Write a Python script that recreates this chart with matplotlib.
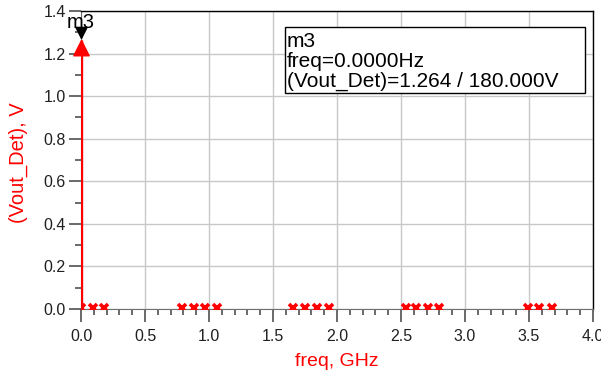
import matplotlib

matplotlib.use("Agg")
import matplotlib.pyplot as plt
from matplotlib.patches import Rectangle
from matplotlib.path import Path
from matplotlib.ticker import MultipleLocator

plt.rcParams["font.family"] = ["Liberation Sans", "DejaVu Sans"]

# spectrum lines (GHz, V)
freq_ghz = [0.0, 0.09, 0.18,
            0.79, 0.88, 0.97, 1.06,
            1.66, 1.75, 1.84, 1.94,
            2.54, 2.62, 2.71, 2.80,
            3.49, 3.58, 3.68]
vout_det = [1.264, 0.004, 0.004,
            0.004, 0.004, 0.004, 0.004,
            0.004, 0.004, 0.004, 0.004,
            0.004, 0.004, 0.004, 0.004,
            0.004, 0.004, 0.004]

marker_name = "m3"
marker_freq = 0.0
marker_val = 1.264

# triangles with the tip on the data point
tip_up = Path([(0, 0), (-0.5, -1), (0.5, -1), (0, 0)])
tip_down = Path([(0, 0), (-0.5, 1), (0.5, 1), (0, 0)])

fig = plt.figure(figsize=(6.01, 3.76), dpi=100)
ax = fig.add_axes([0.1348, 0.178, 0.8519, 0.7927])

ax.set_xlim(0, 4.0)
ax.set_ylim(0, 1.4)
ax.xaxis.set_major_locator(MultipleLocator(0.5))
ax.xaxis.set_minor_locator(MultipleLocator(0.1))
ax.yaxis.set_major_locator(MultipleLocator(0.2))
ax.yaxis.set_minor_locator(MultipleLocator(0.1))
ax.xaxis.set_major_formatter(plt.FuncFormatter(lambda v, p: f"{v:.1f}"))
ax.yaxis.set_major_formatter(plt.FuncFormatter(lambda v, p: f"{v:.1f}"))
ax.grid(True, which="major", color="#c8c8c8", linewidth=1.0)
ax.set_axisbelow(True)

for s in ("top", "right"):
    ax.spines[s].set_color("black")
    ax.spines[s].set_linewidth(1.0)
ax.spines["bottom"].set_color("#707070")
ax.spines["left"].set_color("#707070")
ax.tick_params(axis="both", which="major", length=9, width=1.2, color="#505050",
               labelsize=11.5, labelcolor="#202020")
ax.tick_params(axis="both", which="minor", length=4.5, width=1.2, color="#505050")
ax.tick_params(axis="x", which="major", pad=5)
ax.tick_params(axis="y", which="major", pad=2)

# stems
ax.vlines(freq_ghz, 0, vout_det, color="red", linewidth=2.4, zorder=3)
ax.plot(freq_ghz, [0.004] * len(freq_ghz), linestyle="none", marker="x",
        color="red", markersize=6, markeredgewidth=2.6, zorder=4)
ax.plot([marker_freq], [marker_val], linestyle="none", marker=tip_up,
        color="red", markersize=22, zorder=5, clip_on=False)
ax.plot([marker_freq], [marker_val + 0.01], linestyle="none", marker=tip_down,
        color="black", markersize=16, zorder=6, clip_on=False)
ax.text(marker_freq, 1.318, marker_name, fontsize=14.5, ha="center",
        va="baseline", zorder=7)

ax.set_xlabel("freq, GHz", color="red", fontsize=14)
ax.xaxis.set_label_coords(0.5, -0.148)
ax.set_ylabel("(Vout_Det), V", color="red", fontsize=14.5)
ax.yaxis.set_label_coords(-0.1035, 0.49)

readout = (f"{marker_name}\nfreq={marker_freq:.4f}Hz\n"
           f"(Vout_Det)={marker_val:.3f} / 180.000V")
ax.add_patch(Rectangle((1.594, 1.0147), 2.3435, 0.3101, facecolor="white",
                       edgecolor="black", linewidth=1.0, zorder=8))
ax.text(1.609, 1.302, readout, fontsize=15, ha="left", va="top",
        linespacing=1.07, zorder=9)

fig.savefig("out.png", dpi=100)
